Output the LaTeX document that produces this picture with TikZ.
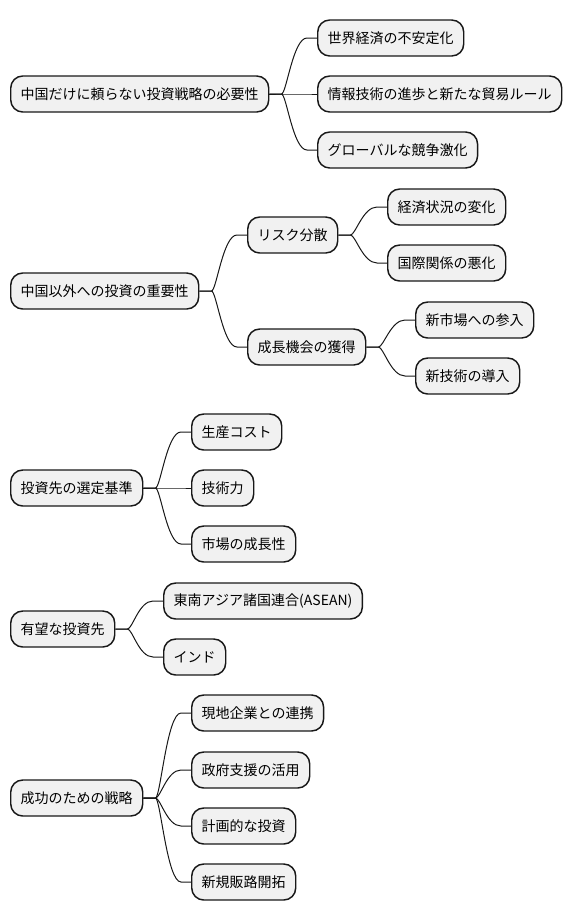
\documentclass[tikz,border=0pt]{standalone}
\usepackage{fontspec}
\setmainfont{Noto Sans CJK JP}
\usetikzlibrary{positioning}
\definecolor{boxfill}{HTML}{F1F1F1}
\definecolor{boxline}{HTML}{181818}
\tikzset{
  topic/.style={draw=boxline, line width=1.1pt, fill=boxfill, rounded corners=9pt, anchor=west, minimum height=27pt, inner xsep=7.5pt, inner ysep=0pt, font=\fontsize{10.5pt}{12pt}\selectfont},
  link/.style={boxline, line width=0.75pt}
}
\begin{document}
\begin{tikzpicture}[x=0.75pt, y=-0.75pt]
  \useasboundingbox (0,0) rectangle (572,921);
  % first branch
  \node[topic] (r1) at (10,94) {中国だけに頼らない投資戦略の必要性};
  \node[topic] (c11) at (317,38) {世界経済の不安定化};
  \node[topic] (c12) at (317,94) {情報技術の進歩と新たな貿易ルール};
  \node[topic] (c13) at (317,150) {グローバルな競争激化};
  \foreach \c in {c11,c12,c13}
    \draw[link] (r1.east) -- ++(12,0) .. controls +(5,0) and +(-14,0) .. ([shift={(-10,0)}]\c.west) -- (\c.west);
  % second branch
  \node[topic] (r2) at (10,291) {中国以外への投資の重要性};
  \node[topic] (c21) at (247,235) {リスク分散};
  \node[topic] (c211) at (387,207) {経済状況の変化};
  \node[topic] (c212) at (387,263) {国際関係の悪化};
  \node[topic] (c22) at (247,347) {成長機会の獲得};
  \node[topic] (c221) at (415,320) {新市場への参入};
  \node[topic] (c222) at (415,376) {新技術の導入};
  \foreach \c in {c21,c22}
    \draw[link] (r2.east) -- ++(12,0) .. controls +(5,0) and +(-14,0) .. ([shift={(-10,0)}]\c.west) -- (\c.west);
  \foreach \c in {c211,c212}
    \draw[link] (c21.east) -- ++(12,0) .. controls +(5,0) and +(-14,0) .. ([shift={(-10,0)}]\c.west) -- (\c.west);
  \foreach \c in {c221,c222}
    \draw[link] (c22.east) -- ++(12,0) .. controls +(5,0) and +(-14,0) .. ([shift={(-10,0)}]\c.west) -- (\c.west);
  % third branch
  \node[topic] (r3) at (10,488) {投資先の選定基準};
  \node[topic] (c31) at (191,432) {生産コスト};
  \node[topic] (c32) at (191,488) {技術力};
  \node[topic] (c33) at (191,544) {市場の成長性};
  \foreach \c in {c31,c32,c33}
    \draw[link] (r3.east) -- ++(12,0) .. controls +(5,0) and +(-14,0) .. ([shift={(-10,0)}]\c.west) -- (\c.west);
  % fourth branch
  \node[topic] (r4) at (10,629) {有望な投資先};
  \node[topic] (c41) at (163,601) {東南アジア諸国連合(ASEAN)};
  \node[topic] (c42) at (163,657) {インド};
  \foreach \c in {c41,c42}
    \draw[link] (r4.east) -- ++(12,0) .. controls +(5,0) and +(-14,0) .. ([shift={(-10,0)}]\c.west) -- (\c.west);
  % fifth branch
  \node[topic] (r5) at (10,798) {成功のための戦略};
  \node[topic] (c51) at (191,713) {現地企業との連携};
  \node[topic] (c52) at (191,770) {政府支援の活用};
  \node[topic] (c53) at (191,826) {計画的な投資};
  \node[topic] (c54) at (191,882) {新規販路開拓};
  \foreach \c in {c51,c52,c53,c54}
    \draw[link] (r5.east) -- ++(12,0) .. controls +(5,0) and +(-14,0) .. ([shift={(-10,0)}]\c.west) -- (\c.west);
\end{tikzpicture}
\end{document}
